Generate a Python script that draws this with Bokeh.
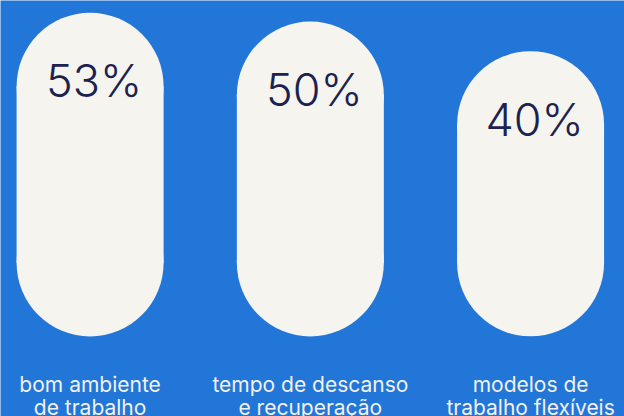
from bokeh.plotting import figure
from bokeh.models import Range1d, ColumnDataSource
from bokeh.core.properties import value
from bokeh.embed import file_html
from bokeh.resources import INLINE

# ---- data ----
categories = [
    "bom ambiente\nde trabalho",
    "tempo de descanso\ne recuperação",
    "modelos de\ntrabalho flexíveis",
]
percentages = [53, 50, 40]
value_labels = [f"{v}%" for v in percentages]

# ---- style / layout ----
BG = "#2276D8"
PILL = "#F5F4EF"
INK = "#1B2250"
LABEL = "#F2F1EC"

W, H = 624, 416
Y0, Y1 = -83.6, 57.14
X0, X1 = -0.4068, 2.4264
BASE = -56.5           # common bottom of the pills (data units)
PILL_PX = 147          # pill width in screen px
px_x = W / (X1 - X0)
px_y = H / (Y1 - Y0)
r_y = PILL_PX / 2 / px_y
bar_w = PILL_PX / px_x

xs = list(range(len(categories)))
src = ColumnDataSource(dict(
    x=xs,
    top_c=[v - r_y for v in percentages],
    base_c=[BASE + r_y] * len(xs),
    vt=value_labels,
    vy=[v - 23 for v in percentages],
    lab=categories,
    ly=[BASE - 11.9] * len(xs),
))

p = figure(width=W, height=H, x_range=Range1d(X0, X1), y_range=Range1d(Y0, Y1),
           output_backend="svg", toolbar_location=None, min_border=0)
p.axis.visible = False
p.grid.visible = False
p.outline_line_color = None
p.background_fill_color = BG
p.border_fill_color = BG

p.vbar(x="x", width=bar_w, bottom="base_c", top="top_c", source=src,
       fill_color=PILL, line_color=None)
p.scatter(x="x", y="top_c", size=PILL_PX, marker="circle", source=src,
          fill_color=PILL, line_color=None)
p.scatter(x="x", y="base_c", size=PILL_PX, marker="circle", source=src,
          fill_color=PILL, line_color=None)

p.text(x="x", y="vy", text="vt", source=src, text_align="center",
       text_baseline="middle", text_font=value("Inter Light"),
       text_font_size="45px", text_color=INK, x_offset=4)

p.text(x="x", y="ly", text="lab", source=src, text_align="center",
       text_baseline="top", text_font=value("Inter"),
       text_font_size="21px", text_color=LABEL, text_line_height=0.92)

open("out.html", "w").write(file_html(p, INLINE))
